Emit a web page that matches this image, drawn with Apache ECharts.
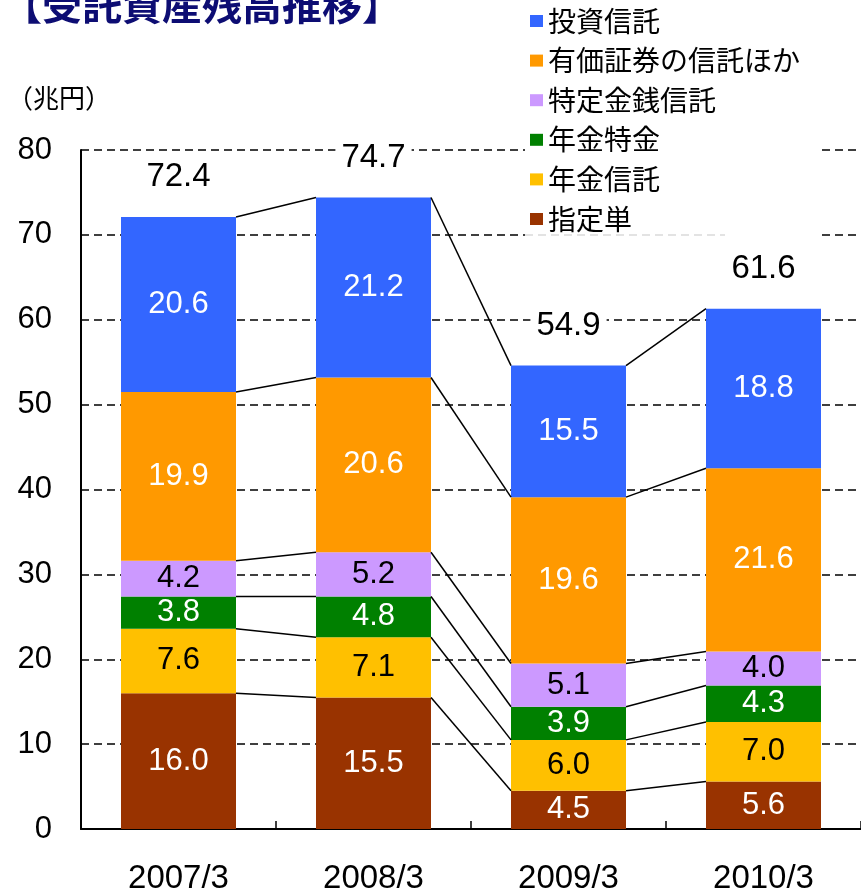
<!DOCTYPE html>
<html>
<head>
<meta charset="utf-8">
<script src="https://cdn.jsdelivr.net/npm/echarts@6/dist/echarts.min.js"></script>
<style>
  html, body { margin: 0; padding: 0; background: #fff; }
  #chart { width: 861px; height: 895px; }
</style>
</head>
<body>
<div id="chart"></div>
<script>
// Fiscal year-end points
const categories = ['2007/3', '2008/3', '2009/3', '2010/3'];

// Balances by trust type (trillion yen), bottom of stack first
const shiteitan      = [16.0, 15.5, 4.5, 5.6];    // 指定単
const nenkinShintaku = [7.6, 7.1, 6.0, 7.0];      // 年金信託
const nenkinTokkin   = [3.8, 4.8, 3.9, 4.3];      // 年金特金
const tokuteiKinsen  = [4.2, 5.2, 5.1, 4.0];      // 特定金銭信託
const yukaShoken     = [19.9, 20.6, 19.6, 21.6];  // 有価証券の信託ほか
const toushiShintaku = [20.6, 21.2, 15.5, 18.8];  // 投資信託

// Published totals shown above each column
const totals = [72.4, 74.7, 54.9, 61.6];

// Value axis ticks
const yMin = 0, yMax = 80, yStep = 10;

const NUM_FONT = "'Liberation Sans', Arial, sans-serif";
const JP_FONT = "'Noto Sans CJK JP', sans-serif";
const BAR_WIDTH = 115;

const layers = [
  { name: '指定単',             data: shiteitan,      color: '#993300', text: '#ffffff' },
  { name: '年金信託',           data: nenkinShintaku, color: '#FFC000', text: '#000000' },
  { name: '年金特金',           data: nenkinTokkin,   color: '#008000', text: '#ffffff' },
  { name: '特定金銭信託',       data: tokuteiKinsen,  color: '#CC99FF', text: '#000000' },
  { name: '有価証券の信託ほか', data: yukaShoken,     color: '#FF9900', text: '#ffffff' },
  { name: '投資信託',           data: toushiShintaku, color: '#3366FF', text: '#ffffff' }
];

// Cumulative top of each layer per column, used for the connector lines
const cumulative = layers.map((_, k) =>
  categories.map((_, i) => layers.slice(0, k + 1).reduce((s, l) => s + l.data[i], 0))
);
const stackTop = cumulative[cumulative.length - 1];

const barSeries = layers.map(l => ({
  name: l.name,
  type: 'bar',
  stack: 'total',
  barWidth: BAR_WIDTH,
  data: l.data,
  itemStyle: { color: l.color },
  label: {
    show: true,
    position: 'inside',
    color: l.text,
    fontFamily: NUM_FONT,
    fontSize: 31,
    formatter: p => p.value.toFixed(1)
  },
  z: 3
}));

// Lines joining the layer boundaries of neighbouring columns
const connectorSeries = {
  type: 'custom',
  name: 'connectors',
  silent: true,
  clip: false,
  z: 4,
  data: categories.slice(0, -1).map((_, i) => [i]),
  encode: { x: 0 },
  renderItem: (params, api) => {
    const i = api.value(0);
    const half = BAR_WIDTH / 2;
    const children = cumulative.map(level => {
      const a = api.coord([i, level[i]]);
      const b = api.coord([i + 1, level[i + 1]]);
      return {
        type: 'line',
        shape: { x1: a[0] + half, y1: a[1], x2: b[0] - half, y2: b[1] },
        style: { stroke: '#000', lineWidth: 1.5 }
      };
    });
    return { type: 'group', children };
  }
};

// Total figure above each column
const totalSeries = {
  type: 'custom',
  name: 'totals',
  silent: true,
  clip: false,
  z: 5,
  data: categories.map((_, i) => [i, stackTop[i]]),
  encode: { x: 0, y: 1 },
  renderItem: (params, api) => {
    const i = api.value(0);
    const p = api.coord([i, api.value(1)]);
    return {
      type: 'text',
      x: p[0],
      y: p[1] - 40,
      style: {
        text: totals[i].toFixed(1),
        fill: '#000',
        font: '33px ' + NUM_FONT,
        align: 'center',
        verticalAlign: 'middle',
        backgroundColor: '#fff',
        padding: [0, 6]
      }
    };
  }
};

const chart = echarts.init(document.getElementById('chart'), null, { renderer: 'canvas' });

chart.setOption({
  backgroundColor: '#fff',
  animation: false,
  grid: { left: 81, top: 150, width: 784, height: 684, containLabel: false },
  graphic: [
    {
      type: 'text', left: 2, top: -15, z: 10,
      style: { text: '【受託資産残高推移】', fill: '#0d0d73', font: 'bold 40px ' + JP_FONT }
    },
    {
      type: 'text', left: 7, top: 85, z: 10,
      style: { text: '（兆円）', fill: '#000', font: '26px ' + JP_FONT }
    },
    {
      type: 'line', z: 100, silent: true,
      shape: { x1: 525, y1: 235, x2: 725, y2: 235 },
      style: { stroke: '#c8c8c8', lineWidth: 1.2, lineDash: [8, 5] }
    }
  ],
  legend: {
    orient: 'vertical',
    left: 525,
    top: 3,
    padding: [4, 20, 5, 5],
    backgroundColor: '#fff',
    itemWidth: 13,
    itemHeight: 12,
    itemGap: 11.6,
    icon: 'rect',
    selectedMode: false,
    z: 20,
    textStyle: { fontFamily: JP_FONT, fontSize: 28, lineHeight: 28, color: '#000' },
    data: layers.slice().reverse().map(l => l.name)
  },
  xAxis: {
    type: 'category',
    data: categories,
    boundaryGap: true,
    axisLine: { lineStyle: { color: '#000', width: 2 } },
    axisTick: { show: true, inside: true, length: 8, lineStyle: { color: '#000', width: 1.5 } },
    axisLabel: { color: '#000', fontFamily: NUM_FONT, fontSize: 33, margin: 33 },
    splitLine: { show: false }
  },
  yAxis: {
    type: 'value',
    min: yMin,
    max: yMax,
    interval: yStep,
    axisLine: { show: true, lineStyle: { color: '#000', width: 2 } },
    axisTick: { show: false },
    axisLabel: { color: '#000', fontFamily: NUM_FONT, fontSize: 31, margin: 29 },
    splitLine: { show: true, lineStyle: { color: '#000', width: 1.5, type: [8, 5] } }
  },
  series: [...barSeries, connectorSeries, totalSeries]
});
</script>
</body>
</html>
